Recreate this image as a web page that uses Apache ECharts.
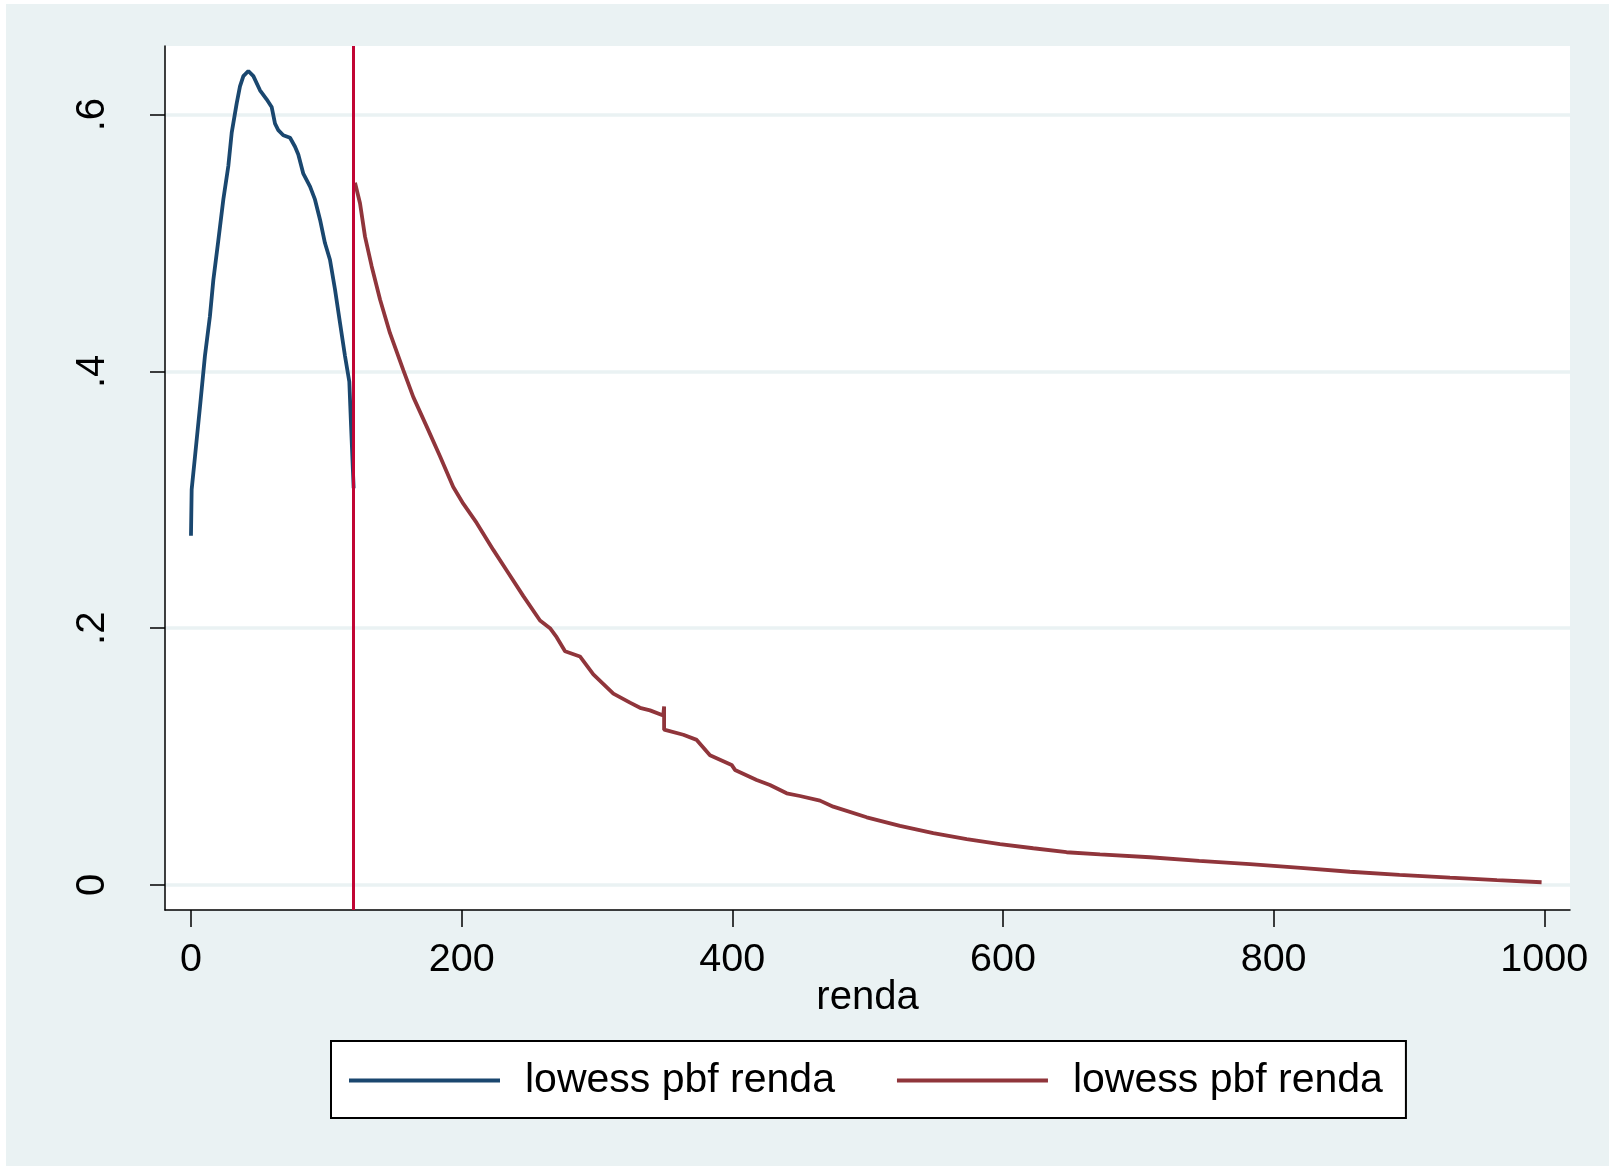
<!DOCTYPE html>
<html>
<head>
<meta charset="utf-8">
<script src="https://cdn.jsdelivr.net/npm/echarts@6/dist/echarts.min.js"></script>
<style>
  html, body { margin: 0; padding: 0; background: #fff; }
  #chart { width: 1609px; height: 1166px; }
</style>
</head>
<body>
<div id="chart"></div>
<script>
// lowess pbf renda, renda < 120
const rendaLow = [0, 0.5, 3, 6.7, 10.3, 14, 16.5, 20.2, 23.9, 27.6, 30.1, 33.8, 36.2, 38.7, 42.4,
  46.1, 51, 55.9, 59.6, 62.1, 64.5, 68.2, 70.7, 73.2, 76.9, 79.3, 83, 88, 91.6, 95.4, 99,
  102.7, 106.4, 110.1, 113.8, 117, 118.2, 120.2]
const pbfLow = [0.272, 0.308, 0.334, 0.373, 0.412, 0.443, 0.471, 0.502, 0.534, 0.560, 0.586, 0.609, 0.622, 0.630, 0.634,
  0.630, 0.619, 0.612, 0.606, 0.593, 0.588, 0.584, 0.583, 0.582, 0.575, 0.569, 0.554, 0.544, 0.534, 0.518, 0.500,
  0.487, 0.464, 0.438, 0.412, 0.392, 0.360, 0.309]

// lowess pbf renda, renda >= 120
const rendaHigh = [121.2, 124.9, 128.6, 133.5, 139.7, 147, 156.9, 164.3, 174.2, 184, 193.8, 201.2, 211.1,
  223.4, 233.3, 245.6, 257.9, 265.3, 270.2, 276.4, 287.4, 297.3, 312.1, 324.4, 331.8, 339.2, 349, 349.6, 349.6,
  363.8, 373.7, 383.5, 399.5, 402, 418, 427.8, 440.2, 450, 464.8, 474.6, 499.3, 523.9, 548.5, 573.2, 597.8,
  622.4, 647, 671.7, 708.6, 745, 782.5, 820, 856.4, 893, 930.3, 965, 998]
const pbfHigh = [0.547, 0.531, 0.505, 0.482, 0.456, 0.430, 0.401, 0.380, 0.357, 0.334, 0.310, 0.297, 0.282,
  0.261, 0.245, 0.225, 0.206, 0.200, 0.193, 0.182, 0.178, 0.164, 0.149, 0.142, 0.138, 0.136, 0.132, 0.139, 0.121,
  0.117, 0.113, 0.101, 0.0935, 0.0896, 0.0818, 0.0779, 0.0714, 0.0693, 0.0657, 0.061, 0.0527, 0.046, 0.0403, 0.0358, 0.0319,
  0.0286, 0.0255, 0.0239, 0.0216, 0.0188, 0.0162, 0.0133, 0.0103, 0.0079, 0.0057, 0.0038, 0.0021]

const xTicks = [0, 200, 400, 600, 800, 1000]
const yTicks = [0, 0.2, 0.4, 0.6]
const cutoff = 120
const legendLabels = ['lowess pbf renda', 'lowess pbf renda']

const font = '"Liberation Sans", Arial, Helvetica, sans-serif'

const chart = echarts.init(document.getElementById('chart'))

const zip = (xs, ys) => xs.map((x, i) => [x, ys[i]])

const option = {
  animation: false,
  textStyle: { fontFamily: font, color: '#000' },
  graphic: [{
    type: 'rect',
    left: 6,
    top: 4,
    shape: { width: 1603, height: 1162 },
    style: { fill: '#EAF2F3' },
    z: -10
  }],
  grid: {
    left: 165,
    right: 39,
    top: 46,
    bottom: 256,
    show: true,
    backgroundColor: '#fff',
    borderWidth: 0
  },
  legend: {
    left: 331,
    top: 1041,
    orient: 'horizontal',
    backgroundColor: '#fff',
    borderColor: '#000',
    borderWidth: 2,
    borderRadius: 0,
    padding: [19, 23, 17, 18],
    itemWidth: 151,
    itemHeight: 4,
    itemGap: 62,
    icon: 'rect',
    data: ['pbf1', 'pbf2'],
    formatter: name => legendLabels[name === 'pbf1' ? 0 : 1],
    textStyle: {
      fontFamily: font,
      fontSize: 41,
      lineHeight: 40,
      color: '#000',
      padding: [0, 0, 0, 20]
    }
  },
  xAxis: {
    type: 'value',
    min: -19.2,
    max: 1019,
    name: 'renda',
    nameLocation: 'middle',
    nameGap: 68,
    nameMoveOverlap: false,
    nameTextStyle: { fontFamily: font, fontSize: 40, color: '#000' },
    axisLine: { show: true, onZero: false, lineStyle: { color: '#000', width: 1.5 } },
    axisTick: { show: true, length: 17, customValues: xTicks, lineStyle: { color: '#000', width: 1.5 } },
    axisLabel: {
      customValues: xTicks,
      margin: 30,
      fontFamily: font,
      fontSize: 39.5,
      color: '#000',
      formatter: v => String(v)
    },
    splitLine: { show: false }
  },
  yAxis: {
    type: 'value',
    min: -0.0195,
    max: 0.6535,
    axisLine: { show: true, onZero: false, lineStyle: { color: '#000', width: 1.5 } },
    axisTick: { show: true, length: 15, customValues: yTicks, lineStyle: { color: '#000', width: 1.5 } },
    axisLabel: {
      customValues: yTicks,
      rotate: 90,
      margin: 52,
      fontFamily: font,
      fontSize: 40,
      color: '#000',
      formatter: v => (v === 0 ? '0' : String(v).replace(/^0/, ''))
    },
    splitLine: { show: true, lineStyle: { color: '#EAF2F3', width: 3.5 } }
  },
  series: [
    {
      name: 'pbf1',
      type: 'line',
      showSymbol: false,
      symbol: 'none',
      lineStyle: { color: '#1A476F', width: 3.8 },
      itemStyle: { color: '#1A476F' },
      data: zip(rendaLow, pbfLow),
      z: 3
    },
    {
      name: 'pbf2',
      type: 'line',
      showSymbol: false,
      symbol: 'none',
      lineStyle: { color: '#90353B', width: 3.8 },
      itemStyle: { color: '#90353B' },
      data: zip(rendaHigh, pbfHigh),
      z: 3,
      markLine: {
        silent: true,
        symbol: 'none',
        label: { show: false },
        lineStyle: { color: '#C10534', width: 3, type: 'solid' },
        data: [{ xAxis: cutoff }],
        z: 4
      }
    }
  ]
}

chart.setOption(option)
</script>
</body>
</html>
